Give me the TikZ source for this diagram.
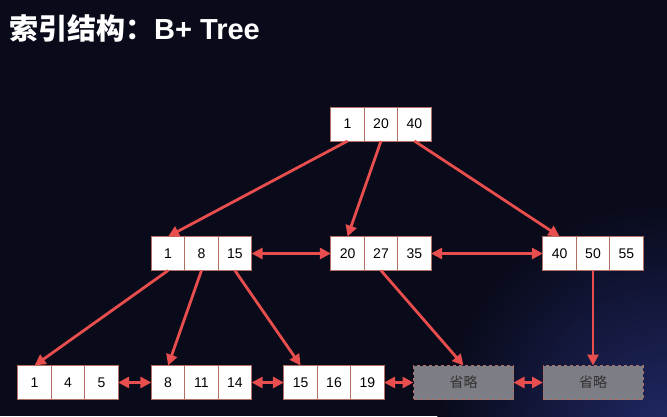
\documentclass[tikz,border=0pt]{standalone}
\usepackage{fontspec}
\setmainfont{Liberation Sans}
\newfontfamily\cjk{Noto Sans CJK SC}
\usetikzlibrary{arrows.meta,positioning}
\definecolor{bg}{RGB}{9,10,26}
\definecolor{glow}{RGB}{32,40,100}
\definecolor{arr}{RGB}{232,78,78}
\definecolor{cellline}{RGB}{178,112,100}
\definecolor{omitfill}{RGB}{125,125,133}
\tikzset{
  cell/.style={draw=cellline, line width=0.9pt, fill=white, minimum width=33.4pt, minimum height=34pt, inner sep=0pt, outer sep=0pt, font=\fontsize{14}{16}\selectfont, text=black},
  omitbox/.style={draw=cellline, dashed, line width=0.9pt, fill=omitfill, minimum width=100pt, minimum height=34pt, inner sep=0pt, outer sep=0pt, font=\fontsize{14}{16}\selectfont\cjk, text=black!80},
  arr/.style={draw=arr, line width=2.8pt, -{Triangle[length=11pt,width=11pt]}},
  darr/.style={draw=arr, line width=2.8pt, {Triangle[length=11pt,width=11pt]}-{Triangle[length=11pt,width=11pt]}}
}
\newcommand\tripnode[5]{%
  \node[cell] (#1-2) at (#2) {#4};
  \node[cell, left=0pt of #1-2] (#1-1) {#3};
  \node[cell, right=0pt of #1-2] (#1-3) {#5};}
\begin{document}
\begin{tikzpicture}[x=1pt,y=-1pt]
\fill[bg] (0,0) rectangle (667,416);
\begin{scope}
\clip (0,0) rectangle (667,416);
\shade[inner color=glow, outer color=bg] (667,430) circle (230);
\end{scope}
\useasboundingbox (0,0) rectangle (667,416);
\node[anchor=west, text=white, inner sep=0pt] (title) at (9,28)
  {\fontsize{29}{32}\selectfont\cjk\bfseries 索引结构：\normalfont\fontsize{29}{32}\selectfont\bfseries B+ Tree};
% root
\tripnode{root}{381,124}{1}{20}{40}
% level 2
\tripnode{L}{201.5,253.5}{1}{8}{15}
\tripnode{M}{381,253.5}{20}{27}{35}
\tripnode{R}{593,253.5}{40}{50}{55}
% leaves
\tripnode{A}{68,382.5}{1}{4}{5}
\tripnode{B}{201.5,382.5}{8}{11}{14}
\tripnode{C}{334,382.5}{15}{16}{19}
\node[omitbox] (O1) at (463.5,382.5) {省略};
\node[omitbox] (O2) at (593,382.5) {省略};
% tree edges
\draw[arr] (root-1.south) -- (L-1.north);
\draw[arr] (root-2.south) -- (M-1.north);
\draw[arr] (root-3.south) -- (R-1.north);
\draw[arr] (L-1.south) -- (A-1.north);
\draw[arr] (L-2.south) -- (B-1.north);
\draw[arr] (L-3.south) -- (C-1.north);
\draw[arr] (M-2.south) -- (O1.north);
\draw[arr] (R-2.south) -- (O2.north);
% sibling links
\draw[darr] (L-3.east) -- (M-1.west);
\draw[darr] (M-3.east) -- (R-1.west);
\draw[darr] (A-3.east) -- (B-1.west);
\draw[darr] (B-3.east) -- (C-1.west);
\draw[darr] (C-3.east) -- (O1.west);
\draw[darr] (O1.east) -- (O2.west);
\end{tikzpicture}
\end{document}
